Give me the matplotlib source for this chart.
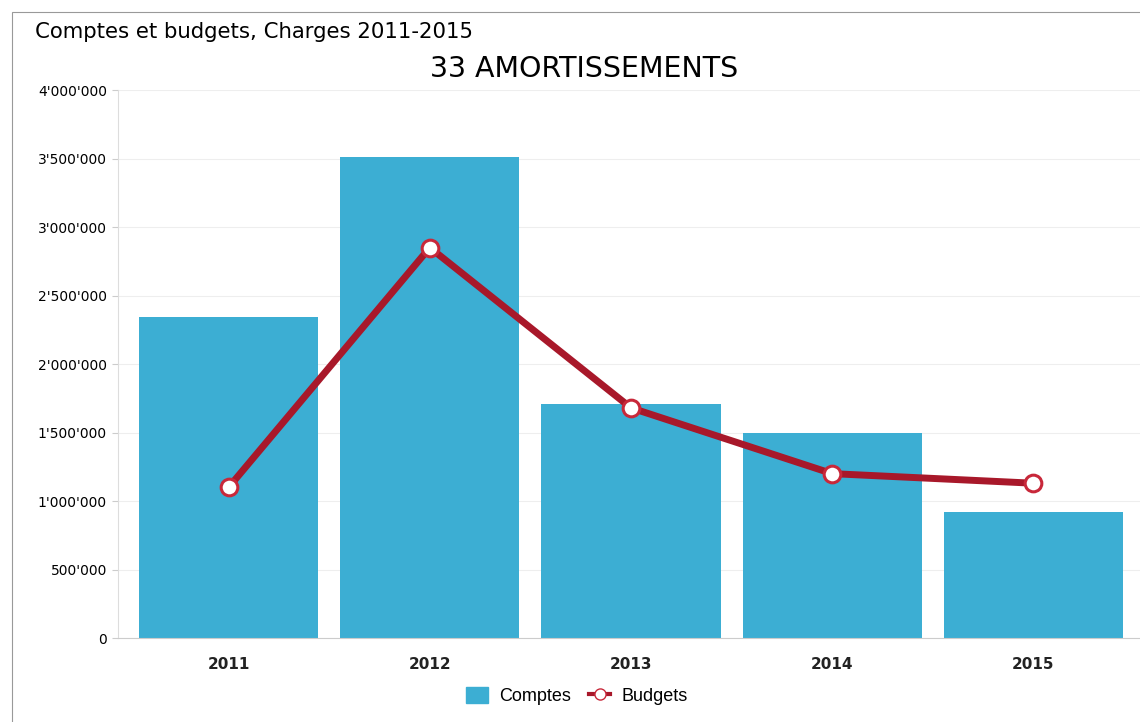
import numpy as np
import matplotlib.pyplot as plt
from matplotlib.ticker import FuncFormatter
from matplotlib.patches import Rectangle
from matplotlib.lines import Line2D

plt.rcParams['font.family'] = ['DejaVu Sans']

years = ['2011', '2012', '2013', '2014', '2015']
comptes = [2340000, 3510000, 1710000, 1500000, 920000]
budgets = [1100000, 2850000, 1680000, 1200000, 1130000]

bar_col = '#3caed3'
line_col = '#a8182a'

fig = plt.figure(figsize=(11.4, 7.22), dpi=100)
ax = fig.add_axes([0.1035, 0.1163, 0.8965, 0.7590])

x = np.arange(len(years))
ax.bar(x, comptes, width=0.89, color=bar_col, zorder=2)
ax.plot(x, budgets, color=line_col, lw=5, zorder=3,
        marker='o', ms=12, mfc='white', mec='#c8283a', mew=2.2)

ax.set_ylim(0, 4000000)
ax.set_xlim(-0.55, 4.53)
ax.set_yticks(np.arange(0, 4000001, 500000))
ax.yaxis.set_major_formatter(FuncFormatter(lambda v, p: f"{v:,.0f}".replace(',', "'")))
ax.set_xticks(x)
ax.set_xticklabels(years)
ax.tick_params(axis='y', length=4, color='#cccccc', labelsize=10, pad=4)
ax.tick_params(axis='x', length=0, labelsize=11, pad=14)
for lab in ax.get_xticklabels():
    lab.set_fontweight('semibold')
    lab.set_color('#222222')
ax.grid(axis='y', color='#eeeeee', lw=0.8, zorder=0)

for s in ['top', 'right']:
    ax.spines[s].set_visible(False)
ax.spines['left'].set_color('#dddddd')
ax.spines['bottom'].set_color('#cccccc')

fig.text(0.031, 0.955, 'Comptes et budgets, Charges 2011-2015', fontsize=15.3, va='center')
fig.text(0.512, 0.905, '33 AMORTISSEMENTS', fontsize=20.5, ha='center', va='center')

fig.patches.append(Rectangle((0.0105, -0.1), 1.2, 1.0833, transform=fig.transFigure,
                             fill=False, ec='#999999', lw=0.8))

handles = [Rectangle((0, 0), 1, 1, color=bar_col),
           Line2D([], [], color=line_col, lw=3, marker='o', ms=8, mfc='white', mec='#c8283a')]
fig.legend(handles, ['Comptes', 'Budgets'], loc='center', bbox_to_anchor=(0.506, 0.036),
           ncol=2, frameon=False, prop={'family': 'Liberation Sans', 'size': 13},
           handlelength=1.2, handleheight=1.0, columnspacing=1.0, handletextpad=0.6)

fig.savefig('out.png')
